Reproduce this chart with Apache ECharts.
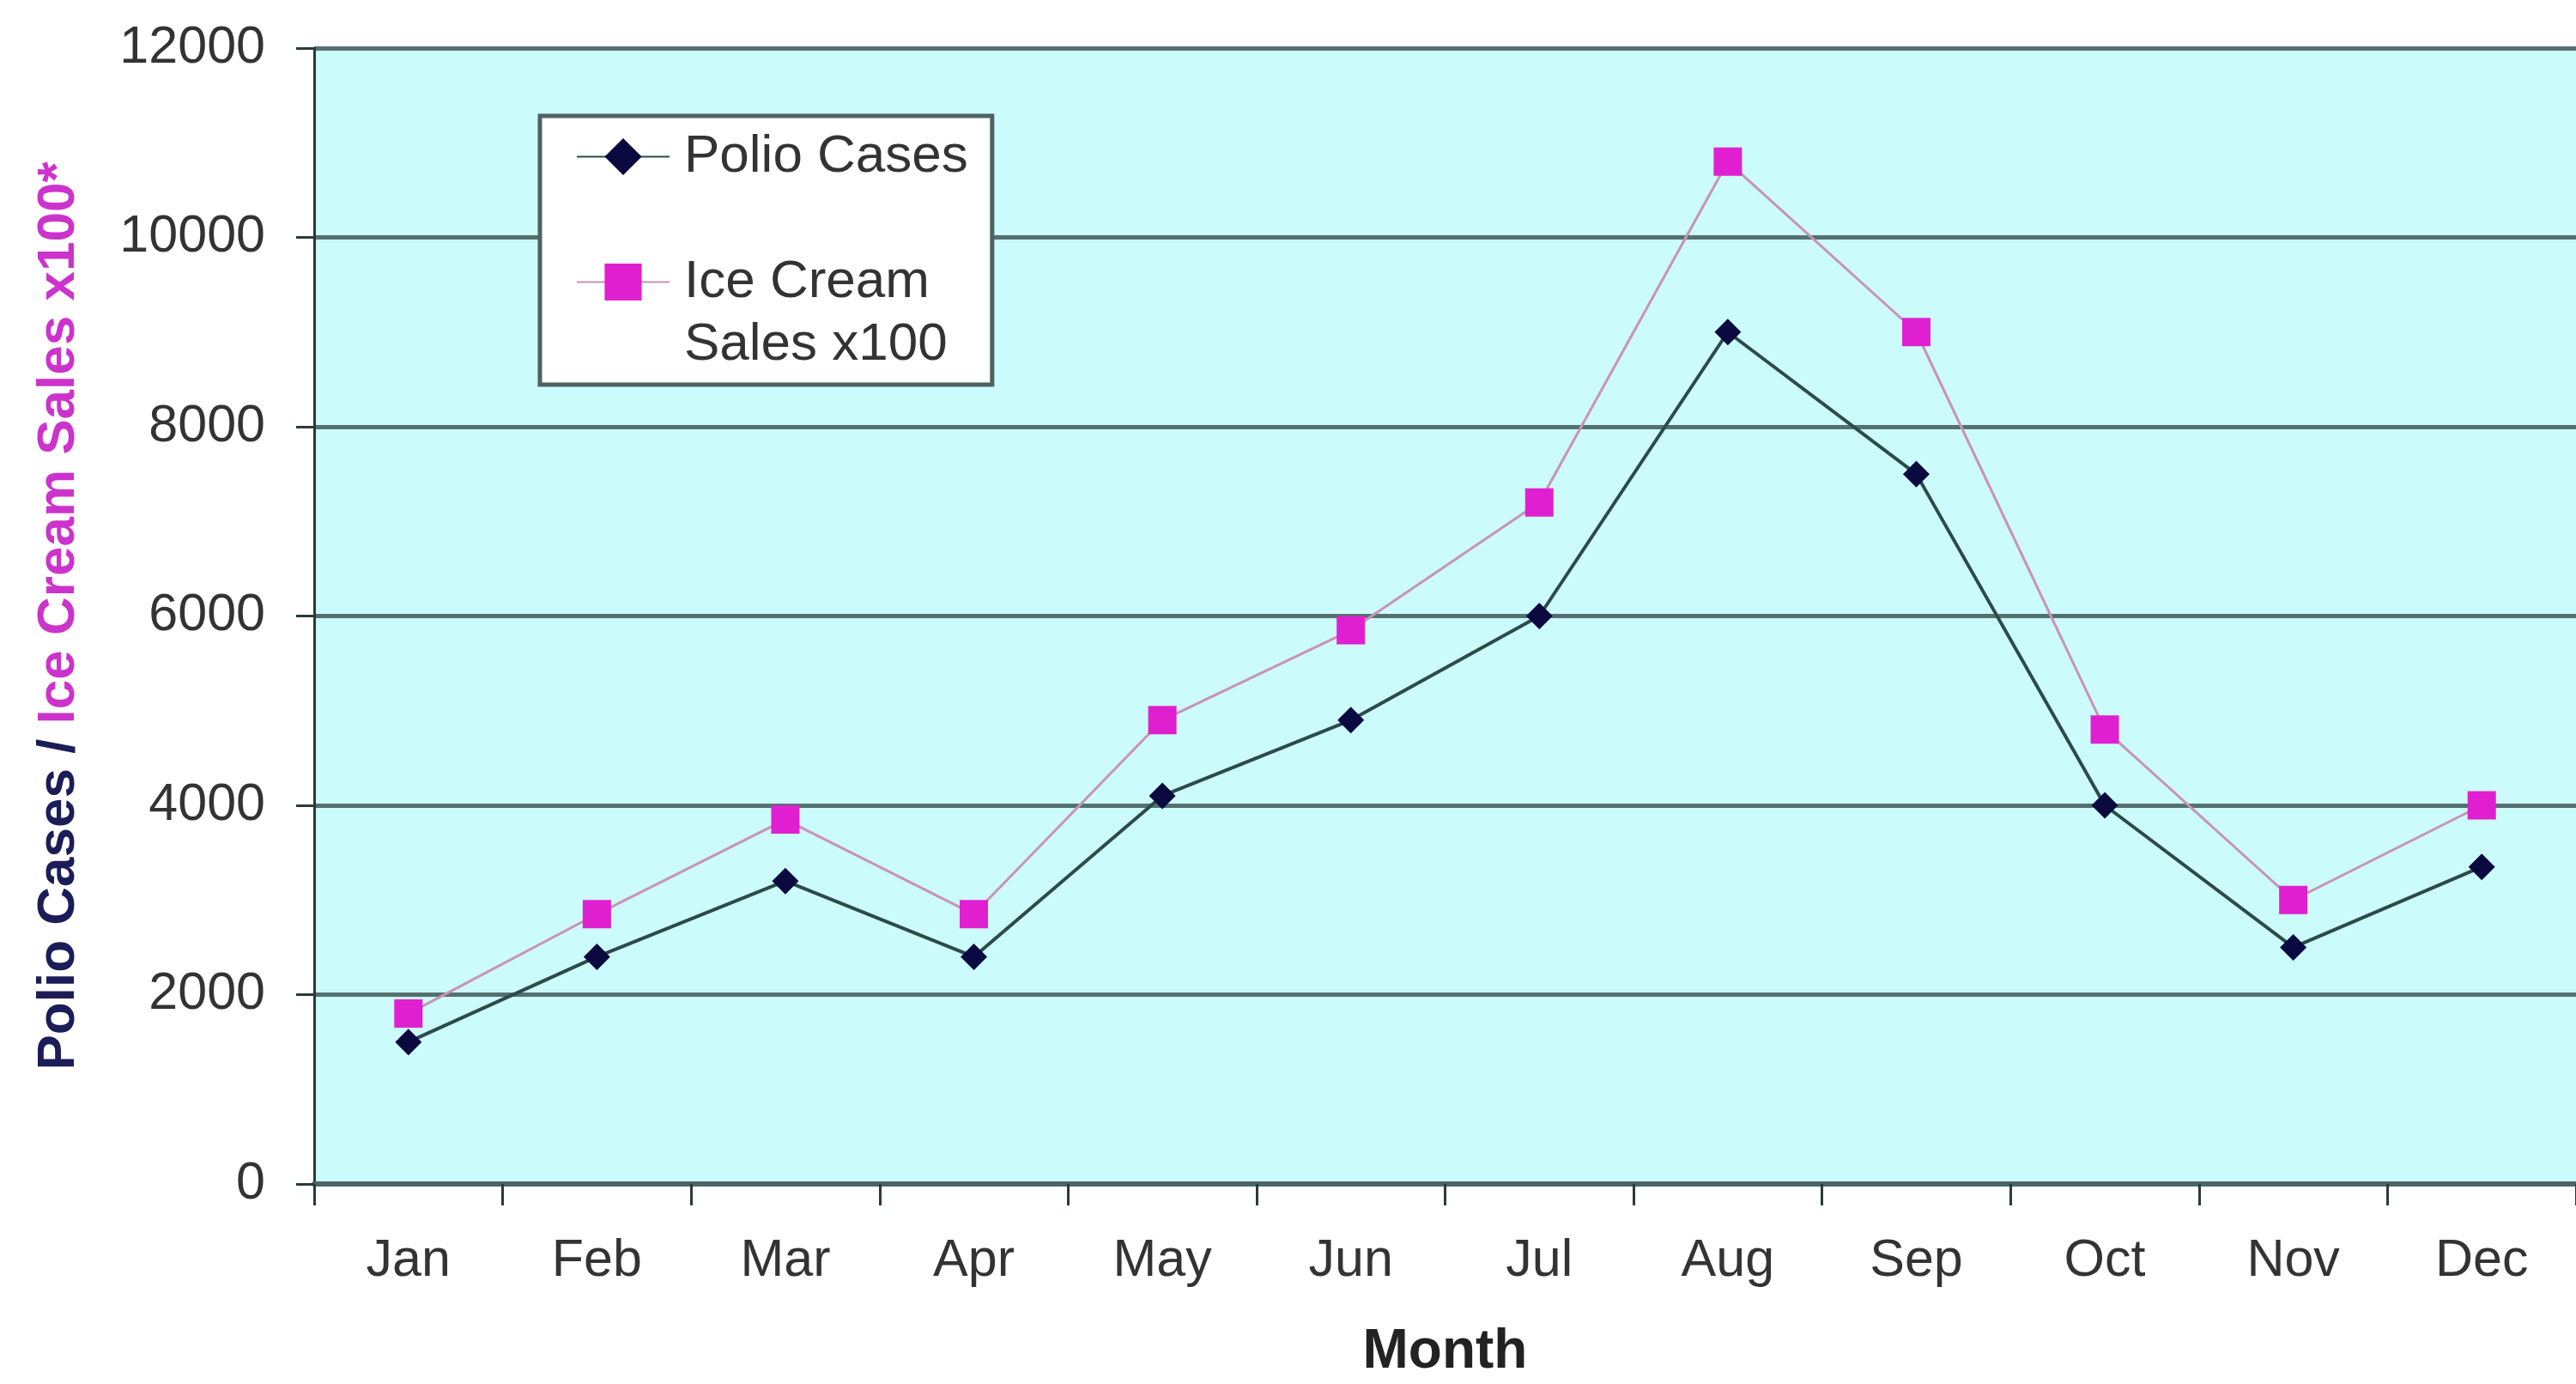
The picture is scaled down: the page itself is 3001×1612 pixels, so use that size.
<!DOCTYPE html>
<html>
<head>
<meta charset="utf-8">
<script src="https://cdn.jsdelivr.net/npm/echarts@6/dist/echarts.min.js"></script>
<style>
html,body{margin:0;padding:0;background:#fff;}
#chart{width:3001px;height:1612px;}
</style>
</head>
<body>
<div id="chart"></div>
<script>
const months = ['Jan','Feb','Mar','Apr','May','Jun','Jul','Aug','Sep','Oct','Nov','Dec'];
const polioCases = [1500, 2400, 3200, 2400, 4100, 4900, 6000, 9000, 7500, 4000, 2500, 3350];
const iceCreamSales = [1800, 2850, 3850, 2850, 4900, 5850, 7200, 10800, 9000, 4800, 3000, 4000];
const yTicks = [0, 2000, 4000, 6000, 8000, 10000, 12000];
const polioName = 'Polio Cases';
const iceName = 'Ice Cream\nSales x100';

const FONT = '"Liberation Sans", Arial, sans-serif';
const chart = echarts.init(document.getElementById('chart'), null, {renderer: 'canvas'});

chart.setOption({
  backgroundColor: '#ffffff',
  animation: false,
  textStyle: {fontFamily: FONT},
  grid: {
    left: 366, top: 56, width: 2652, height: 1333,
    show: true, backgroundColor: '#cbfbfb', borderWidth: 0
  },
  legend: {
    left: 629, top: 135,
    orient: 'vertical',
    backgroundColor: '#ffffff',
    borderColor: '#4d6262',
    borderWidth: 5,
    padding: [11, 28, 10, 42],
    itemGap: 0,
    itemWidth: 108,
    itemHeight: 54,
    formatter: function (name) {
      const lines = name.split('\n').map(function (s) { return '{t|' + s + '}'; });
      if (lines.length > 1) lines.unshift('{t| }');
      return lines.join('\n');
    },
    textStyle: {
      fontFamily: FONT, fontSize: 62, color: '#333333', lineHeight: 73,
      rich: {t: {fontFamily: FONT, fontSize: 62, color: '#333333', lineHeight: 73, padding: [0, 0, 0, 12]}}
    },
    data: [polioName, iceName]
  },
  xAxis: {
    type: 'category',
    data: months,
    boundaryGap: true,
    name: 'Month',
    nameLocation: 'middle',
    nameGap: 164,
    nameTextStyle: {fontFamily: FONT, fontSize: 64, fontWeight: 'bold', color: '#222222'},
    axisLine: {show: true, lineStyle: {color: '#4c6666', width: 6}},
    axisTick: {show: true, length: 25, lineStyle: {color: '#2a3a3a', width: 3}},
    axisLabel: {fontFamily: FONT, fontSize: 61, color: '#333333', margin: 60}
  },
  yAxis: {
    type: 'value',
    min: yTicks[0],
    max: yTicks[yTicks.length - 1],
    interval: 2000,
    name: '{a|Polio Cases / }{b|Ice Cream Sales x100*}',
    nameLocation: 'middle',
    nameRotate: 90,
    nameGap: 266,
    nameTextStyle: {
      fontFamily: FONT, fontSize: 62, fontWeight: 'bold',
      rich: {
        a: {fontFamily: FONT, fontSize: 62, fontWeight: 'bold', color: '#1c1c58'},
        b: {fontFamily: FONT, fontSize: 62, fontWeight: 'bold', color: '#cc33cc'}
      }
    },
    axisLine: {show: true, lineStyle: {color: '#2a3a3a', width: 3}},
    axisTick: {show: true, length: 21, lineStyle: {color: '#2a3a3a', width: 3}},
    axisLabel: {
      fontFamily: FONT, fontSize: 61, color: '#333333', margin: 57,
      formatter: function (v) { return String(v); }
    },
    splitLine: {show: true, lineStyle: {color: '#557070', width: 5}}
  },
  series: [
    {
      name: iceName,
      type: 'line',
      data: iceCreamSales,
      symbol: 'rect',
      symbolSize: 33,
      lineStyle: {color: '#c993b3', width: 3},
      itemStyle: {color: '#e020d0'},
      z: 2
    },
    {
      name: polioName,
      type: 'line',
      data: polioCases,
      symbol: 'diamond',
      symbolSize: 31,
      lineStyle: {color: '#2d4a4a', width: 4},
      itemStyle: {color: '#0a0a40'},
      z: 3
    }
  ]
});
</script>
</body>
</html>
